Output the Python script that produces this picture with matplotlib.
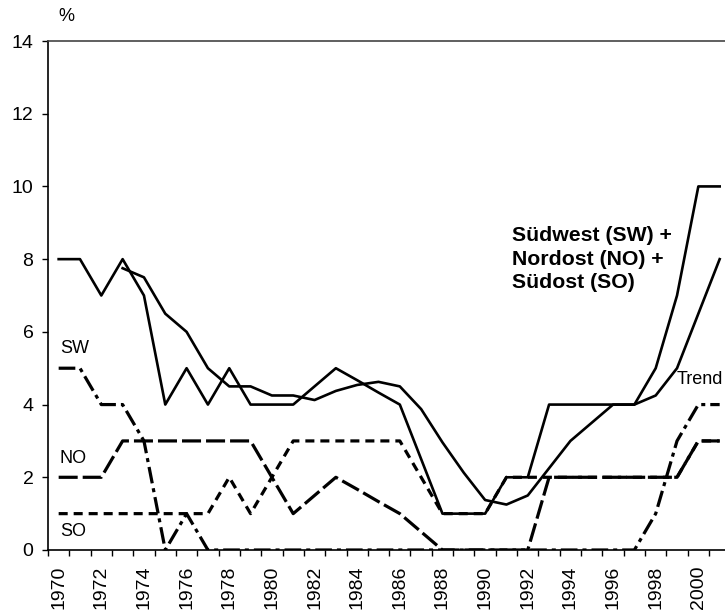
import numpy as np
import matplotlib
matplotlib.use("Agg")
import matplotlib.pyplot as plt

plt.rcParams['font.family'] = ['Liberation Sans', 'DejaVu Sans']
plt.rcParams['lines.scale_dashes'] = False

# data (percent)
years = list(range(1970, 2002))
total = [8, 8, 7, 8, 7, 4, 5, 4, 5, 4, 4, 4, 4.5, 5, 4.67, 4.33,
         4, 2.5, 1, 1, 1, 2, 2, 4, 4, 4, 4, 4, 5, 7, 10, 10]
trend = [np.nan, np.nan, np.nan, 7.75, 7.5, 6.5, 6, 5, 4.5, 4.5, 4.25, 4.25,
         4.125, 4.375, 4.54, 4.625, 4.5, 3.875, 2.96, 2.125, 1.375, 1.25,
         1.5, 2.25, 3, 3.5, 4, 4, 4.25, 5, 6.5, 8]
sw = [5, 5, 4, 4, 3, 0, 1, 0, 0, 0, 0, 0, 0, 0, 0, 0,
      0, 0, 0, 0, 0, 0, 0, 0, 0, 0, 0, 0, 1, 3, 4, 4]
no = [2, 2, 2, 3, 3, 3, 3, 3, 3, 3, 2, 1, 1.5, 2, 1.67, 1.33,
      1, 0.5, 0, 0, 0, 0, 0, 2, 2, 2, 2, 2, 2, 2, 3, 3]
so = [1, 1, 1, 1, 1, 1, 1, 1, 2, 1, 2, 3, 3, 3, 3, 3,
      3, 2, 1, 1, 1, 2, 2, 2, 2, 2, 2, 2, 2, 2, 3, 3]

fig = plt.figure(figsize=(7.25, 6.15), dpi=100)
ax = fig.add_axes([48 / 725, 1 - 550 / 615, 1 - 48 / 725, (550 - 41) / 615])

ax.plot(years, sw, color='black', lw=2.3, dashes=(12, 3.6, 2.9, 3.6))
ax.plot(years, no, color='black', lw=2.3, dashes=(13.7, 3.6))
ax.plot(years, so, color='black', lw=2.3, dashes=(6.5, 4.3))
ax.plot(years, total, color='black', lw=1.9)
ax.plot(years, trend, color='black', lw=1.9)

ax.set_xlim(1969.5, 2001.25)
ax.set_ylim(0, 14)
ax.set_yticks(range(0, 15, 2))
ax.set_xticks(range(1970, 2001, 2))
ax.set_xticklabels([str(y) for y in range(1970, 2001, 2)], rotation=90)
ax.set_xticks(np.arange(1969.5, 2001.5, 1), minor=True)
ax.tick_params(axis='x', which='major', length=0, pad=11, labelsize=14)
ax.tick_params(axis='x', which='minor', length=4.5, width=1, direction='out')
ax.tick_params(axis='y', length=4.5, width=1, pad=6, labelsize=14)

ax.spines['right'].set_visible(False)
ax.spines['top'].set_color('#444444')
ax.spines['top'].set_linewidth(1.2)
ax.spines['left'].set_linewidth(1.2)
ax.spines['bottom'].set_linewidth(1.2)

# labels
ax.text(1970.0, 14.45, '%', fontsize=13, va='bottom', ha='left')
ax.text(1970.05, 5.55, 'SW', fontsize=13, va='center', ha='left')
ax.text(1970.05, 2.53, 'NO', fontsize=13, va='center', ha='left')
ax.text(1970.05, 0.5, 'SO', fontsize=13, va='center', ha='left')
ax.text(1999.0, 4.68, 'Trend', fontsize=13, va='center', ha='left')
ax.text(1991.26, 8.0, 'Südwest (SW) +\nNordost (NO) +\nSüdost (SO)',
        fontsize=15.3, fontweight='bold', va='center', ha='left', linespacing=1.3)

fig.savefig('out.png', dpi=100)
